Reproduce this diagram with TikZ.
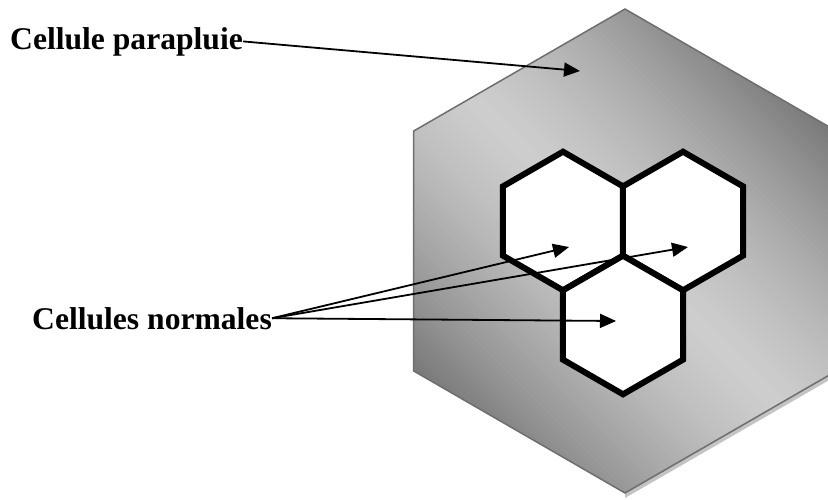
\documentclass[tikz,border=0pt]{standalone}
\usepackage{fontspec}
\setmainfont{Liberation Serif}
\usetikzlibrary{arrows.meta,calc}
\definecolor{udark}{HTML}{787878}
\definecolor{ulight}{HTML}{CDCDCD}
\definecolor{uedge}{HTML}{6E6E6E}
\definecolor{uband}{HTML}{C4C4C4}

\begin{document}
\begin{tikzpicture}[x=1pt,y=-1pt,
  cell/.style={draw=black, fill=white, line width=6pt, miter limit=10},
  lbl/.style={font=\fontsize{31.6}{36}\selectfont\bfseries, inner sep=0pt},
  ptr/.style={-{Triangle[length=16pt,width=14pt]}, line width=1.8pt}]
 \useasboundingbox (0,0) rectangle (828,499);
 \coordinate (uc) at (625,252);
 \begin{scope}
  \clip (0,0) rectangle (828,499);
  \fill[uband] (625,493) -- (836.3,371) -- (836.3,376) -- (625,498) -- cycle;
  \begin{scope}
   \clip (625,9) -- (413.7,131) -- (413.7,371) -- (625,493) -- (836.3,371) -- (836.3,131) -- cycle;
   \foreach \t in {-240,-236,...,240} {
    \pgfmathsetmacro{\pc}{100*min(1,abs(\t+2)/235)^1.4}
    \fill[udark!\pc!ulight] ($(uc)+(-45:\t)+(45:-400)$)
     -- ($(uc)+(-45:\t)+(45:400)$) -- ($(uc)+(-45:\t+4.5)+(45:400)$)
     -- ($(uc)+(-45:\t+4.5)+(45:-400)$) -- cycle;
   }
  \end{scope}
  \draw[uedge, line width=1.5pt] (625,9) -- (413.7,131) -- (413.7,371) -- (625,493) -- (836.3,371) -- (836.3,131) -- cycle;
 \end{scope}
 \foreach \cx/\cy/\nm in {563/221/ca, 683/221/cb, 623/325/cc} {
  \coordinate (\nm) at (\cx,\cy);
  \draw[cell] ($(\nm)+(30:69.3)$) \foreach \a in {90,150,...,330} {-- ($(\nm)+(\a:69.3)$)} -- cycle;
 }
 \node[lbl, anchor=base west] (para) at (10,49) {Cellule parapluie};
 \node[lbl, anchor=base west] (norm) at (32,329) {Cellules normales};
 \coordinate (tpara) at (580,71);
 \coordinate (ta) at (569,247);
 \coordinate (tb) at (688,247);
 \coordinate (tc) at (616,321);
 \draw[ptr] (para.east) -- (tpara);
 \draw[ptr] (norm.east) -- (ta);
 \draw[ptr] (norm.east) -- (tb);
 \draw[ptr] (norm.east) -- (tc);
\end{tikzpicture}
\end{document}
